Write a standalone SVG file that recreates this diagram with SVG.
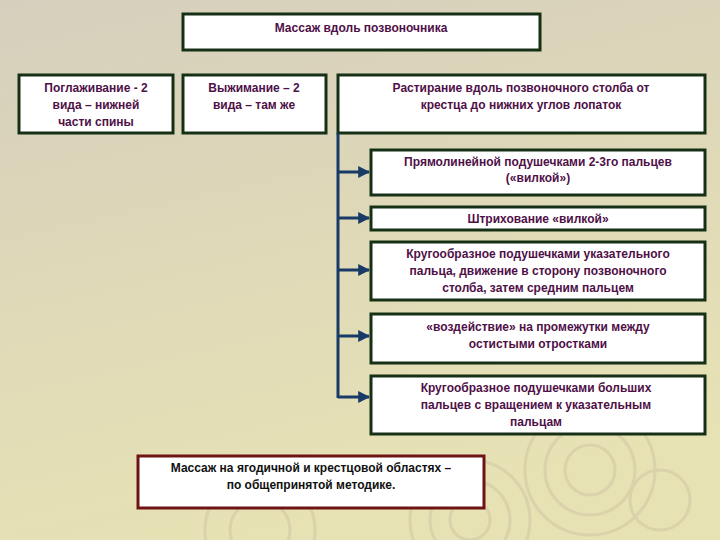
<svg xmlns="http://www.w3.org/2000/svg" width="720" height="540" viewBox="0 0 720 540">
<defs>
<linearGradient id="bg" x1="0" y1="0" x2="0.3" y2="1"><stop offset="0" stop-color="#d6cfbd"/><stop offset="1" stop-color="#e7e2b4"/></linearGradient>
<marker id="ar" viewBox="0 0 10 10" refX="9" refY="5" markerWidth="4" markerHeight="4" orient="auto" markerUnits="strokeWidth"><path d="M0,0L10,5L0,10z" fill="#173a66"/></marker>
<style>
.b{fill:#fff;stroke:#163016;stroke-width:3}
.r{fill:#fff;stroke:#6e1414;stroke-width:3}
text{font-family:"Liberation Sans",Arial,sans-serif;font-size:12px;font-weight:bold;fill:#4f1048;text-anchor:middle}
.k{fill:#111}
.c{fill:none;stroke:#173a66;stroke-width:3}
.rp{fill:none;stroke:#d4cca6;stroke-width:3;opacity:.7}
</style>
</defs>
<rect width="720" height="540" fill="url(#bg)"/>
<g class="rp"><circle cx="470" cy="520" r="20"/><circle cx="470" cy="520" r="40"/><circle cx="470" cy="520" r="60"/><circle cx="590" cy="470" r="25"/><circle cx="590" cy="470" r="45"/><circle cx="590" cy="470" r="65"/><circle cx="260" cy="530" r="30"/><circle cx="260" cy="530" r="55"/><circle cx="660" cy="500" r="30"/></g>
<g id="top"><rect class="b" x="183" y="14" width="357" height="36"/><text x="361" y="32">Массаж вдоль позвоночника</text></g>
<g id="n1"><rect class="b" x="19" y="75" width="154" height="58"/><text x="96" y="92">Поглаживание - 2</text><text x="96" y="109">вида – нижней</text><text x="96" y="126">части спины</text></g>
<g id="n2"><rect class="b" x="183" y="75" width="143" height="58"/><text x="254" y="92">Выжимание – 2</text><text x="254" y="109">вида – там же</text></g>
<g id="n3"><rect class="b" x="338" y="75" width="367" height="58"/><text x="521" y="92">Растирание вдоль позвоночного столба от</text><text x="521" y="109">крестца до нижних углов лопаток</text></g>
<g id="c1"><rect class="b" x="371" y="150" width="334" height="45"/><text x="538" y="166">Прямолинейной подушечками 2-3го пальцев</text><text x="538" y="182">(«вилкой»)</text></g>
<g id="c2"><rect class="b" x="371" y="207" width="334" height="23"/><text x="538" y="223">Штрихование «вилкой»</text></g>
<g id="c3"><rect class="b" x="371" y="242" width="334" height="58"/><text x="538" y="258">Кругообразное подушечками указательного</text><text x="538" y="275">пальца, движение в сторону позвоночного</text><text x="538" y="292">столба, затем средним пальцем</text></g>
<g id="c4"><rect class="b" x="371" y="314" width="334" height="49"/><text x="538" y="331">«воздействие» на промежутки между</text><text x="538" y="348">остистыми отростками</text></g>
<g id="c5"><rect class="b" x="371" y="376" width="334" height="58"/><text x="536" y="392">Кругообразное подушечками больших</text><text x="536" y="409">пальцев с вращением к указательным</text><text x="536" y="426">пальцам</text></g>
<g id="bot"><rect class="r" x="138" y="456" width="346" height="52"/><text class="k" x="311" y="472">Массаж на ягодичной и крестцовой областях –</text><text class="k" x="311" y="489">по общепринятой методике.</text></g>
<g id="connectors">
<path class="c" d="M338,133V398"/>
<path class="c" marker-end="url(#ar)" d="M338,172H369"/>
<path class="c" marker-end="url(#ar)" d="M338,218H369"/>
<path class="c" marker-end="url(#ar)" d="M338,270H369"/>
<path class="c" marker-end="url(#ar)" d="M338,336H369"/>
<path class="c" marker-end="url(#ar)" d="M338,397H369"/>
</g>
</svg>
